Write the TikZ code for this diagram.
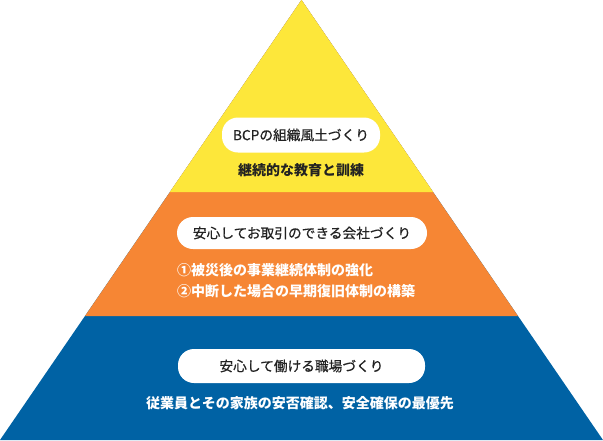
\documentclass[tikz,border=0pt]{standalone}
\usepackage{fontspec}
\setmainfont{Noto Sans CJK JP}
\newfontfamily\jp{Noto Sans CJK JP}
\newfontfamily\jpm[FakeBold=0.6]{Noto Sans CJK JP}
\definecolor{pyyellow}{HTML}{FDE73A}
\definecolor{pyorange}{HTML}{F68634}
\definecolor{pyblue}{HTML}{0062A4}
\definecolor{inktext}{HTML}{222222}
\begin{document}
\begin{tikzpicture}[x=1pt,y=-1pt,
  pill/.style={fill=white,rounded corners=16pt,inner sep=0pt,text=inktext,font=\jpm\fontsize{13.7}{16}\selectfont},
  desc/.style={inner sep=0pt,font=\jp\bfseries\fontsize{14}{20}\selectfont},
]
\useasboundingbox (0,0) rectangle (603,440);
\coordinate (apex) at (301.5,0);
\coordinate (bl) at (0,440);
\coordinate (br) at (603,440);
\coordinate (ol) at (85,316);
\coordinate (or) at (518,316);
\coordinate (yl) at (169.9,192);
\coordinate (yr) at (433.1,192);
\fill[pyblue] (apex) -- (bl) -- (br) -- cycle;
\fill[pyorange] (apex) -- (ol) -- (or) -- cycle;
\fill[pyyellow] (apex) -- (yl) -- (yr) -- cycle;
% yellow tier
\node[pill,minimum width=158pt,minimum height=35pt] (p1) at (301,135) {BCPの組織風土づくり};
\node[desc,text=inktext] (d1) at (301,170) {継続的な教育と訓練};
% orange tier
\node[pill,minimum width=250pt,minimum height=32pt] (p2) at (302,233) {安心してお取引のできる会社づくり};
\node[desc,text=white,anchor=west] (d2a) at (177,270) {①被災後の事業継続体制の強化};
\node[desc,text=white,anchor=west] (d2b) at (177,291) {②中断した場合の早期復旧体制の構築};
% blue tier
\node[pill,minimum width=247pt,minimum height=34pt] (p3) at (301.5,366) {安心して働ける職場づくり};
\node[desc,text=white] (d3) at (300,403) {従業員とその家族の安否確認、安全確保の最優先};
\end{tikzpicture}
\end{document}
